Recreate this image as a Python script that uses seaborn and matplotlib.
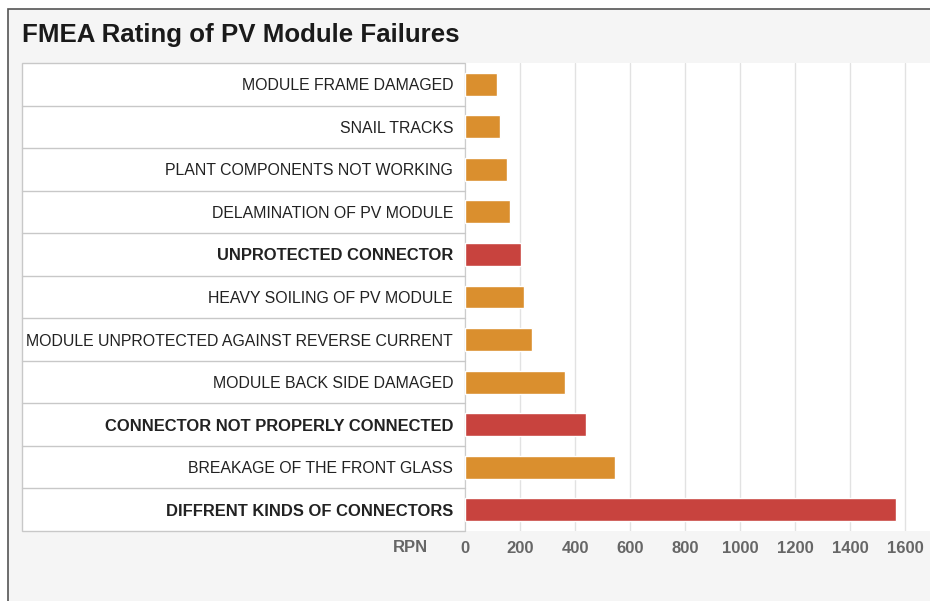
import matplotlib
matplotlib.use("Agg")
import matplotlib.pyplot as plt
import matplotlib.transforms as mtransforms
from matplotlib.patches import Rectangle
import seaborn as sns
import pandas as pd

# ---------- data ----------
failures = [
    "MODULE FRAME DAMAGED",
    "SNAIL TRACKS",
    "PLANT COMPONENTS NOT WORKING",
    "DELAMINATION OF PV MODULE",
    "UNPROTECTED CONNECTOR",
    "HEAVY SOILING OF PV MODULE",
    "MODULE UNPROTECTED AGAINST REVERSE CURRENT",
    "MODULE BACK SIDE DAMAGED",
    "CONNECTOR NOT PROPERLY CONNECTED",
    "BREAKAGE OF THE FRONT GLASS",
    "DIFFRENT KINDS OF CONNECTORS",
]
rpn = [115, 129, 151, 165, 205, 216, 242, 365, 438, 544, 1565]
connector_issue = [False, False, False, False, True, False, False, False, True, False, True]
x_ticks = [0, 200, 400, 600, 800, 1000, 1200, 1400, 1600]

ORANGE = "#DA8F2E"
RED = "#C8433E"
GRID = "#e2e2e2"
SEP = "#c8c8c8"
TICK_GREY = "#666666"

df = pd.DataFrame({"failure": failures, "rpn": rpn, "connector": connector_issue})

sns.set_theme(style="white")
plt.rcParams["font.family"] = ["Liberation Sans", "DejaVu Sans"]

W, H = 930, 601
fig = plt.figure(figsize=(W / 100, H / 100), dpi=100)
fig.patch.set_facecolor("white")

# outer grey card with dark frame
fig.add_artist(Rectangle((8 / W, -0.05), 1.1, (H - 9) / H + 0.05, transform=fig.transFigure,
                         facecolor="#f5f5f5", edgecolor="#555555", linewidth=1.2, zorder=-3))

fig.text(22 / W, (H - 35) / H, "FMEA Rating of PV Module Failures", fontsize=18.6,
         fontweight="bold", color="#1a1a1a", ha="left", va="center")

# label panel (white, bordered)
top_px, bot_px, split_px = 63, 531, 465
fig.add_artist(Rectangle((22 / W, (H - bot_px) / H), (split_px - 22) / W, (bot_px - top_px) / H,
                         transform=fig.transFigure, facecolor="white", edgecolor=SEP,
                         linewidth=1.0, zorder=-2))

ax = fig.add_axes([split_px / W, (H - bot_px) / H, (W - split_px) / W, (bot_px - top_px) / H])
ax.set_facecolor("white")

sns.barplot(data=df, x="rpn", y="failure", hue="connector", palette={False: ORANGE, True: RED},
            dodge=False, width=0.54, legend=False, saturation=1, ax=ax, zorder=3)

ax.set_xlim(0, 1690)
ax.set_ylim(len(failures) - 0.5, -0.5)
ax.set_xticks(x_ticks)
ax.set_xticklabels([str(t) for t in x_ticks])
ax.grid(axis="x", color=GRID, linewidth=1.0, zorder=0)
ax.grid(axis="y", visible=False)
for s in ax.spines.values():
    s.set_visible(False)

ax.tick_params(axis="y", length=0, pad=8.6, labelsize=11.45, labelcolor="#222222")
ax.tick_params(axis="x", length=0, pad=7.5, labelsize=12, labelcolor=TICK_GREY)
for lbl in ax.get_xticklabels():
    lbl.set_fontweight("bold")
for lbl, hl in zip(ax.get_yticklabels(), connector_issue):
    if hl:
        lbl.set_fontweight("bold")
        lbl.set_fontsize(11.9)
ax.set_xlabel("")
ax.set_ylabel("")

# row separators in the label panel
trans = mtransforms.blended_transform_factory(fig.transFigure, ax.transData)
for i in range(len(failures) - 1):
    ax.plot([22 / W, split_px / W], [i + 0.5, i + 0.5], transform=trans, color=SEP,
            linewidth=1.0, clip_on=False, zorder=2)
# panel right edge
ax.axvline(0, color=SEP, linewidth=1.2, zorder=2)

fig.text(428 / W, (H - 548) / H, "RPN", fontsize=12, fontweight="bold", color=TICK_GREY,
         ha="right", va="center")

fig.savefig("out.png", dpi=100)
